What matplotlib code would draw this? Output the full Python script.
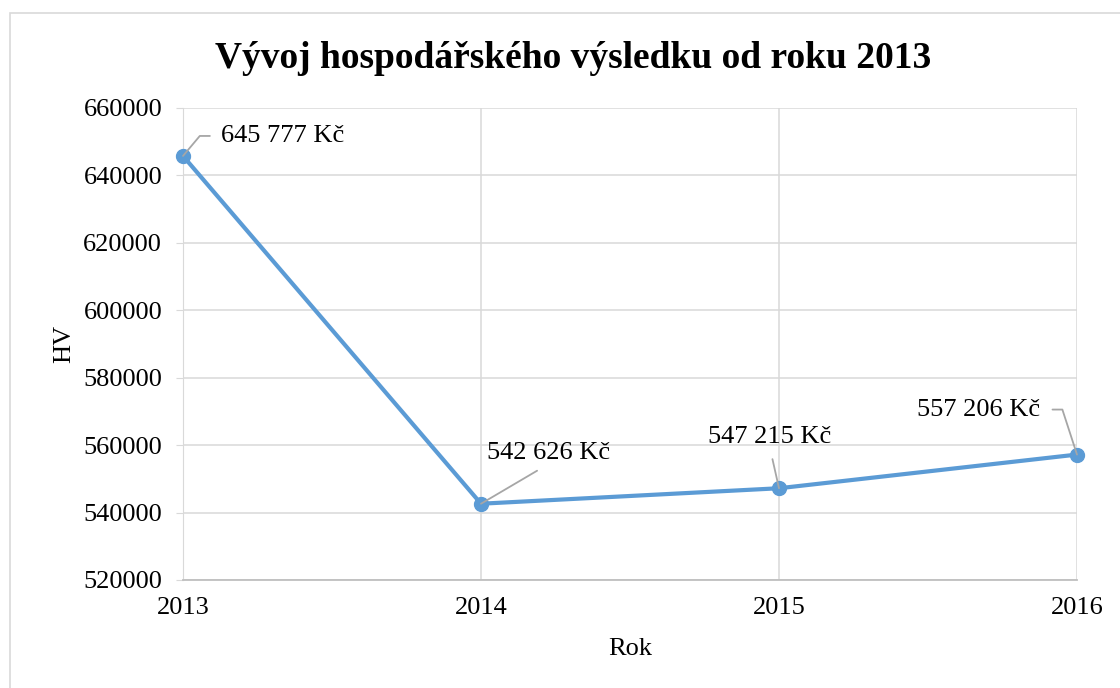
import matplotlib
matplotlib.use("Agg")
import matplotlib.pyplot as plt
from matplotlib.patches import Rectangle

years = [2013, 2014, 2015, 2016]
hv = [645777, 542626, 547215, 557206]
labels = ["645 777 Kč", "542 626 Kč", "547 215 Kč", "557 206 Kč"]
y_ticks = [520000, 540000, 560000, 580000, 600000, 620000, 640000, 660000]

BLUE = "#5B9BD5"
GRID = "#D9D9D9"
LEADER = "#A6A6A6"

plt.rcParams["font.family"] = ["Liberation Serif", "DejaVu Serif"]

fig = plt.figure(figsize=(11.2, 6.88), dpi=100)
ax = fig.add_axes([183 / 1120, 1 - 580 / 688, (1077 - 183) / 1120, (580 - 108) / 688])

# chart area border (right and bottom edges fall outside the picture)
fig.patches.append(Rectangle((10 / 1120, -0.05), 1.2, 1 - 13 / 688 + 0.05,
                             transform=fig.transFigure, fill=False,
                             edgecolor=GRID, linewidth=1.2))

ax.plot(years, hv, color=BLUE, linewidth=3, marker="o", markersize=10,
        zorder=3, clip_on=False)

ax.set_xlim(years[0], years[-1])
ax.set_ylim(y_ticks[0], y_ticks[-1])
ax.set_xticks(years)
ax.set_yticks(y_ticks)
ax.tick_params(axis="y", labelsize=19, length=5, color=GRID, pad=10)
ax.tick_params(axis="x", labelsize=19, length=0, pad=12)
ax.grid(True, color=GRID, linewidth=1.1)
ax.set_axisbelow(True)
for s in ("top", "right"):
    ax.spines[s].set_visible(False)
ax.spines["left"].set_color(GRID)
ax.spines["bottom"].set_color("#BFBFBF")
ax.spines["bottom"].set_linewidth(1.3)

ax.set_xlabel("Rok", fontsize=19, labelpad=14)
ax.set_ylabel("HV", fontsize=19, labelpad=6)
fig.text(573 / 1120, 1 - 58 / 688, "Vývoj hospodářského výsledku od roku 2013",
         ha="center", va="center", fontsize=27, fontweight="bold")

# data labels with leader lines: (offset px, ha, relpos, connection, shrinkA)
label_style = [
    ((38, 20), "left", (0, 0.5), "angle,angleA=0,angleB=50,rad=0", 6),
    ((68, 51), "center", (0.5, 0), "arc3,rad=0", 6),
    ((-9, 51), "center", (0.5, 0), "arc3,rad=0", 6),
    ((-37, 45), "right", (1, 0.5), "angle,angleA=0,angleB=108,rad=0", 7),
]
for x, y, txt, (off, ha, rel, conn, shr) in zip(years, hv, labels, label_style):
    ax.annotate(txt, (x, y), xytext=off, textcoords="offset pixels",
                ha=ha, va="center", fontsize=19, zorder=4,
                arrowprops=dict(arrowstyle="-", color=LEADER, linewidth=1.3,
                                relpos=rel, connectionstyle=conn,
                                shrinkA=shr, shrinkB=0))

fig.savefig("out.png", dpi=100)
